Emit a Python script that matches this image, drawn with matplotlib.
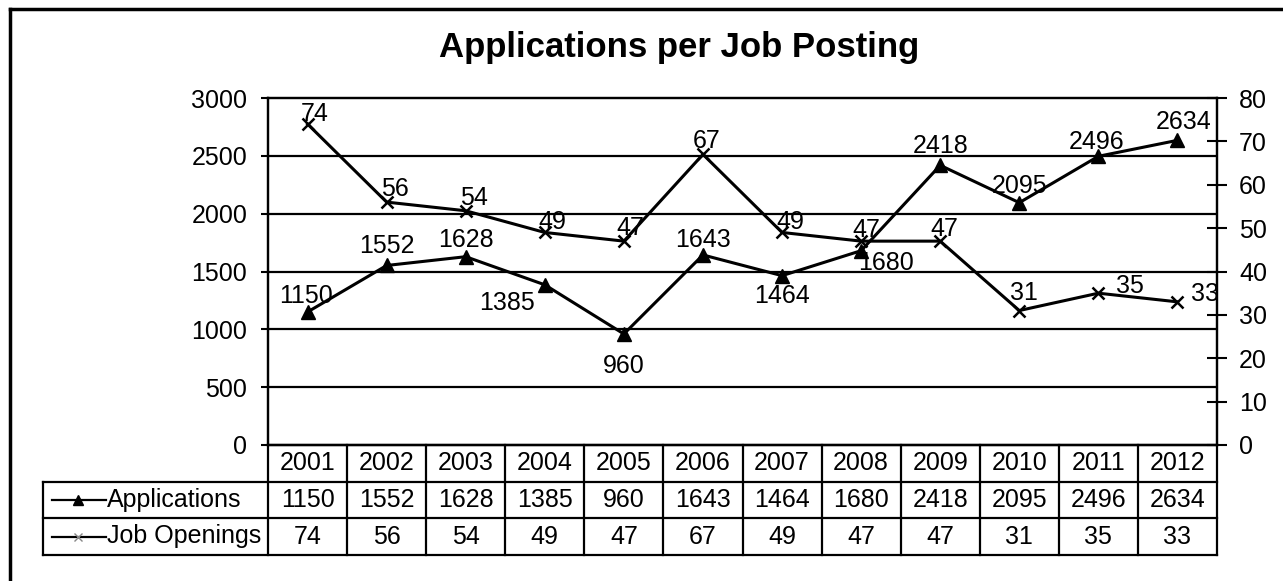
import matplotlib.pyplot as plt
import numpy as np
from matplotlib.lines import Line2D

plt.rcParams['font.family'] = ['Liberation Sans', 'DejaVu Sans']

years = ['2001', '2002', '2003', '2004', '2005', '2006',
         '2007', '2008', '2009', '2010', '2011', '2012']
applications = [1150, 1552, 1628, 1385, 960, 1643, 1464, 1680, 2418, 2095, 2496, 2634]
job_openings = [74, 56, 54, 49, 47, 67, 49, 47, 47, 31, 35, 33]

# label offsets in pixels (dx, dy) relative to each marker
app_offsets = [(-2, 16), (0, 19), (0, 17), (-38, -18), (0, -32), (0, 15),
               (0, -20), (25, -12), (0, 19), (0, 17), (-2, 14), (6, 18)]
job_offsets = [(7, 10), (8, 13), (8, 13), (8, 10), (6, 13), (4, 13),
               (8, 10), (5, 11), (4, 12), (5, 18), (32, 7), (28, 8)]

W, H = 1283, 581
fig = plt.figure(figsize=(W / 100, H / 100), dpi=100)
fig.patch.set_facecolor('white')

ax_l, ax_r, ax_t, ax_b = 268, 1217, 98, 445
ax = fig.add_axes([ax_l / W, 1 - ax_b / H, (ax_r - ax_l) / W, (ax_b - ax_t) / H])
ax2 = ax.twinx()

x = np.arange(len(years))
col_px = (ax_r - ax_l) / len(years)


def px2x(px):
    return -0.5 + (px - ax_l) / col_px


def py2y(py):
    return (ax_b - py) / (ax_b - ax_t)


ax.set_xlim(-0.5, len(years) - 0.5)
ax.set_ylim(0, 3000)
ax2.set_ylim(0, 80)
ax.set_yticks(np.arange(0, 3001, 500))
ax2.set_yticks(np.arange(0, 81, 10))
ax.set_xticks([])

for y in range(500, 3000, 500):
    ax.axhline(y, color='black', lw=1.6, zorder=1)

for s in ax.spines.values():
    s.set_linewidth(1.6)
for s in ax2.spines.values():
    s.set_linewidth(1.6)

ax.tick_params(axis='y', labelsize=18, length=5, width=1.5, pad=10)
ax2.tick_params(axis='y', labelsize=18, length=14, width=1.5, direction='inout', pad=9)

ax.plot(x, applications, color='black', lw=2.2, marker='^', markersize=10, zorder=3)
ax2.plot(x, job_openings, color='black', lw=2.2, marker='x', markersize=9,
         markeredgewidth=1.8, zorder=3)

for xi, v, (dx, dy) in zip(x, applications, app_offsets):
    ax.annotate(str(v), (xi, v), xytext=(dx, dy), textcoords='offset pixels',
                ha='center', va='center', fontsize=18, zorder=4)
for xi, v, (dx, dy) in zip(x, job_openings, job_offsets):
    ax2.annotate(str(v), (xi, v), xytext=(dx, dy), textcoords='offset pixels',
                 ha='center', va='center', fontsize=18, zorder=4)

# data table below the plot
tr = ax.get_xaxis_transform()
rows_px = [445, 482, 518, 555]
left_px = 43
lw = 1.6
for i, py in enumerate(rows_px):
    x0 = -0.5 if i == 0 else px2x(left_px)
    ax.plot([x0, len(years) - 0.5], [py2y(py)] * 2, transform=tr,
            color='black', lw=lw, clip_on=False)
for i in range(len(years) + 1):
    xx = -0.5 + i
    ax.plot([xx, xx], [py2y(rows_px[0]), py2y(rows_px[-1])], transform=tr,
            color='black', lw=lw, clip_on=False)
ax.plot([px2x(left_px)] * 2, [py2y(rows_px[1]), py2y(rows_px[-1])], transform=tr,
        color='black', lw=lw, clip_on=False)

row_values = [years, [str(v) for v in applications], [str(v) for v in job_openings]]
for r, vals in enumerate(row_values):
    yc = py2y((rows_px[r] + rows_px[r + 1]) / 2)
    for xi, t in zip(x, vals):
        ax.text(xi, yc, t, transform=tr, ha='center', va='center', fontsize=18)

# legend keys inside the row label cells
for r, (label, marker, mcol) in enumerate([('Applications', '^', 'black'),
                                           ('Job Openings', 'x', '#888888')]):
    yc = py2y((rows_px[r + 1] + rows_px[r + 2]) / 2)
    ax.plot([px2x(52), px2x(106)], [yc, yc], transform=tr, color='black',
            lw=1.6, clip_on=False)
    ax.plot([px2x(78)], [yc], transform=tr, color=mcol, marker=marker,
            markersize=7 if marker == '^' else 6, markeredgewidth=1.0,
            clip_on=False, zorder=5)
    ax.text(px2x(107), yc, label, transform=tr, ha='left', va='center', fontsize=18)

fig.text(679 / W, 1 - 48 / H, 'Applications per Job Posting', ha='center', va='center',
         fontsize=25, fontweight='bold')

# outer chart frame
fig.add_artist(Line2D([10 / W, 1], [1 - 9 / H, 1 - 9 / H], color='black', lw=2.5))
fig.add_artist(Line2D([10 / W, 10 / W], [0, 1 - 9 / H], color='black', lw=2.5))

fig.savefig('out.png', dpi=100, facecolor='white')
